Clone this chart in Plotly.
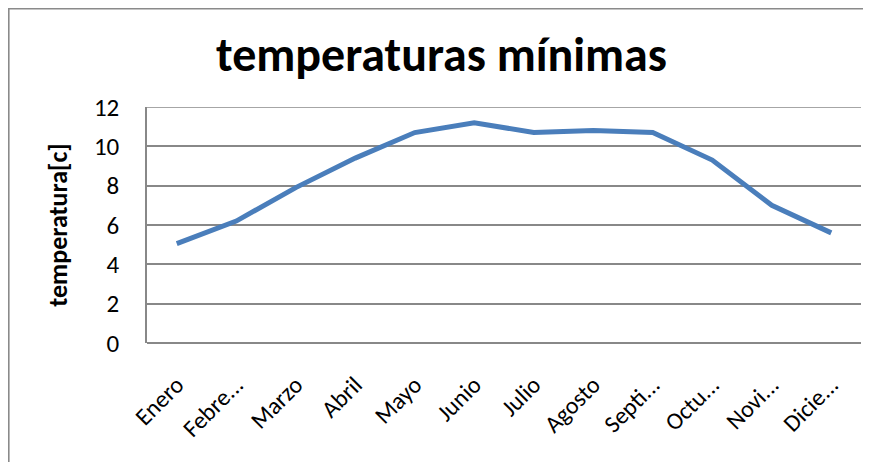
import plotly.graph_objects as go

meses = ["Enero", "Febre...", "Marzo", "Abril", "Mayo", "Junio", "Julio",
         "Agosto", "Septi...", "Octu...", "Novi...", "Dicie..."]
temperaturas = [5.05, 6.2, 7.9, 9.4, 10.7, 11.2, 10.7, 10.8, 10.7, 9.3, 7.0, 5.6]
y_ticks = [0, 2, 4, 6, 8, 10, 12]

# page body has an 8px margin, so the figure starts at page (8, 8)
W, H = 863, 454
L, R, T, B = 139, 10, 99, 119
pw, ph = W - L - R, H - T - B

FONT = "Carlito, Calibri, Lato, sans-serif"
GRID = "#888888"

fig = go.Figure()
fig.add_trace(go.Scatter(
    x=list(range(len(meses))), y=temperaturas, mode="lines",
    line=dict(color="#4a7ebb", width=5), showlegend=False,
))

def px_x(p):
    return (p - L) / pw

def px_y(p):
    return (H - B - p) / ph

# outer chart border (left and top visible)
fig.add_shape(type="line", xref="paper", yref="paper",
              x0=px_x(0.8), x1=px_x(0.8), y0=px_y(470), y1=px_y(0.8),
              line=dict(color="#8a8a8a", width=1.6))
fig.add_shape(type="line", xref="paper", yref="paper",
              x0=px_x(0), x1=px_x(880), y0=px_y(0.8), y1=px_y(0.8),
              line=dict(color="#8a8a8a", width=1.6))
# top gridline at max value
fig.add_shape(type="line", xref="paper", yref="y",
              x0=0, x1=1, y0=y_ticks[-1], y1=y_ticks[-1],
              line=dict(color=GRID, width=1.5), layer="below")

fig.update_layout(
    width=W, height=H,
    margin=dict(l=L, r=R, t=T, b=B, autoexpand=False),
    paper_bgcolor="white", plot_bgcolor="white",
    title=dict(text="<b>temperaturas mínimas</b>", x=433.5 / W, xanchor="center",
               xref="container", y=1 - 46 / H, yref="container", yanchor="middle",
               font=dict(family=FONT, size=48, color="black")),
    font=dict(family=FONT, color="black"),
)
fig.update_xaxes(
    tickmode="array", tickvals=list(range(len(meses))), ticktext=meses,
    range=[-0.5, len(meses) - 0.5], tickangle=-45, automargin=False,
    tickfont=dict(size=24, family=FONT), showgrid=False, zeroline=False,
    showline=False, ticks="", ticklabelstandoff=22,
)
fig.update_yaxes(
    range=[0, 12], tickvals=y_ticks, showgrid=True, gridcolor=GRID, gridwidth=1.5,
    showline=True, linecolor=GRID, linewidth=1.5,
    zeroline=True, zerolinecolor=GRID, zerolinewidth=1.5, ticks="", automargin=False,
    tickfont=dict(size=25, family=FONT), ticklabelstandoff=21,
    title=dict(text="<b>temperatura[c]</b>", font=dict(size=26, family=FONT), standoff=19),
)
fig.write_html("out.html")
